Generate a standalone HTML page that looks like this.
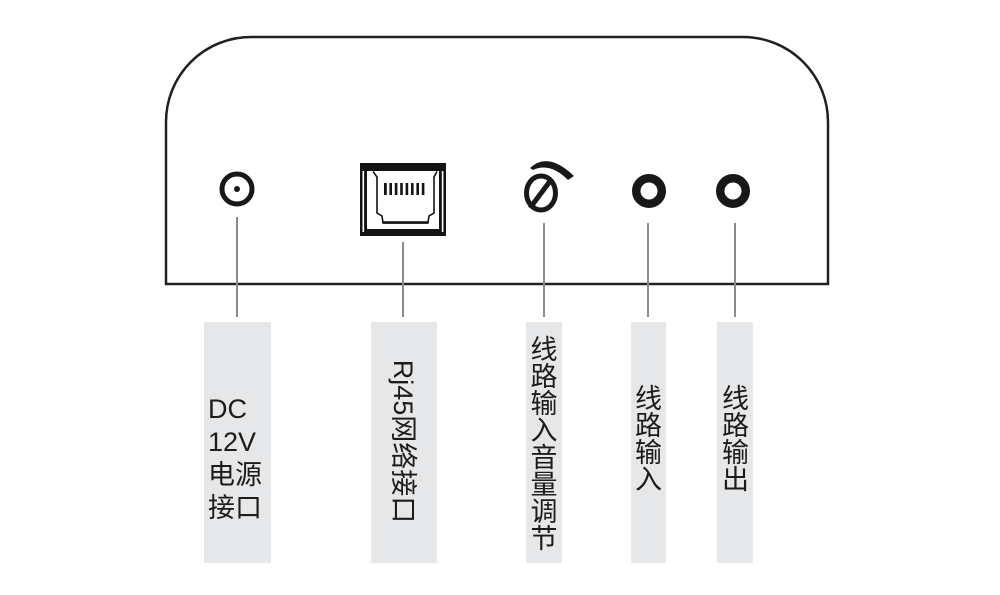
<!DOCTYPE html>
<html>
<head>
<meta charset="utf-8">
<style>
  html, body { margin: 0; padding: 0; background: #ffffff; }
  body { width: 1000px; height: 595px; overflow: hidden; }
  svg { display: block; }
  text { font-family: "Liberation Sans", "Noto Sans CJK SC", sans-serif; fill: #1f1b1c; }
</style>
</head>
<body>
<svg width="1000" height="595" viewBox="0 0 1000 595" xmlns="http://www.w3.org/2000/svg">
  <rect x="0" y="0" width="1000" height="595" fill="#ffffff"/>

  <!-- device outline -->
  <path d="M166,284 L166,122 A85,85 0 0 1 251,37 L743,37 A85,85 0 0 1 828,122 L828,284 Z"
        fill="none" stroke="#231f20" stroke-width="2.5"/>

  <!-- DC jack -->
  <circle cx="237" cy="189" r="15" fill="none" stroke="#1a1718" stroke-width="5"/>
  <circle cx="237" cy="189" r="3" fill="#1a1718"/>

  <!-- RJ45 port -->
  <rect x="360" y="163" width="86" height="73" fill="#141213"/>
  <rect x="367" y="171" width="72" height="58" fill="#ffffff"/>
  <rect x="362.5" y="171" width="1.6" height="61" fill="#ffffff"/>
  <rect x="441.8" y="171" width="1.6" height="61" fill="#ffffff"/>
  <path d="M373,171.5 L377,177 L377,213 L382,216 L383,223 L428,223 L429,216 L434,213 L434,177 L437,171.5"
        fill="none" stroke="#141213" stroke-width="1.6"/>
  <path d="M383,222.5 L428,222.5" stroke="#141213" stroke-width="2.5"/>
  <g fill="#141213">
    <rect x="384" y="183" width="2.8" height="12"/>
    <rect x="389.4" y="183" width="2.6" height="12"/>
    <rect x="394.8" y="183" width="2.6" height="12"/>
    <rect x="400.2" y="183" width="2.6" height="12"/>
    <rect x="405.6" y="183" width="2.6" height="12"/>
    <rect x="411" y="183" width="2.6" height="12"/>
    <rect x="416.4" y="183" width="2.6" height="12"/>
    <rect x="421.8" y="183" width="2.6" height="12"/>
  </g>

  <!-- volume knob -->
  <ellipse cx="541" cy="193" rx="14.5" ry="17" fill="none" stroke="#1a1718" stroke-width="5"/>
  <line x1="530" y1="208" x2="552" y2="178.5" stroke="#1a1718" stroke-width="5"/>
  <path d="M530,168 Q548,151 574,176 L568,180 Q550,162 533,170 Z" fill="#1a1718"/>

  <!-- line in / line out jacks -->
  <circle cx="649" cy="191" r="12.75" fill="none" stroke="#1a1718" stroke-width="8.5"/>
  <circle cx="733" cy="191" r="12.75" fill="none" stroke="#1a1718" stroke-width="8.5"/>

  <!-- connector lines -->
  <g stroke="#8c8c8c" stroke-width="2">
    <line x1="237" y1="217" x2="237" y2="317"/>
    <line x1="403" y1="242" x2="403" y2="317"/>
    <line x1="544" y1="223" x2="544" y2="317"/>
    <line x1="648" y1="223" x2="648" y2="317"/>
    <line x1="735" y1="223" x2="735" y2="317"/>
  </g>

  <!-- label boxes -->
  <g fill="#e6e7e8">
    <rect x="204" y="322" width="67" height="241"/>
    <rect x="371" y="322" width="66" height="241"/>
    <rect x="526" y="322" width="36" height="241"/>
    <rect x="631" y="322" width="35" height="241"/>
    <rect x="717" y="322" width="36" height="241"/>
  </g>

  <!-- DC label -->
  <g font-size="27">
    <text x="208" y="418">DC</text>
    <text x="208" y="451">12V</text>
    <text x="208" y="484">电源</text>
    <text x="208" y="517">接口</text>
  </g>

  <!-- RJ45 label (rotated) -->
  <text font-size="27" text-anchor="middle" transform="translate(394,441.5) rotate(90)" x="0" y="0">Rj45网络接口</text>

  <!-- volume label -->
  <g font-size="27" text-anchor="middle">
    <text x="544" y="359">线</text>
    <text x="544" y="386">路</text>
    <text x="544" y="413">输</text>
    <text x="544" y="440">入</text>
    <text x="544" y="467">音</text>
    <text x="544" y="494">量</text>
    <text x="544" y="521">调</text>
    <text x="544" y="548">节</text>
  </g>

  <!-- line in label -->
  <g font-size="27" text-anchor="middle">
    <text x="648.5" y="408">线</text>
    <text x="648.5" y="435">路</text>
    <text x="648.5" y="462">输</text>
    <text x="648.5" y="489">入</text>
  </g>

  <!-- line out label -->
  <g font-size="27" text-anchor="middle">
    <text x="735.5" y="408">线</text>
    <text x="735.5" y="435">路</text>
    <text x="735.5" y="462">输</text>
    <text x="735.5" y="489">出</text>
  </g>
</svg>
</body>
</html>
